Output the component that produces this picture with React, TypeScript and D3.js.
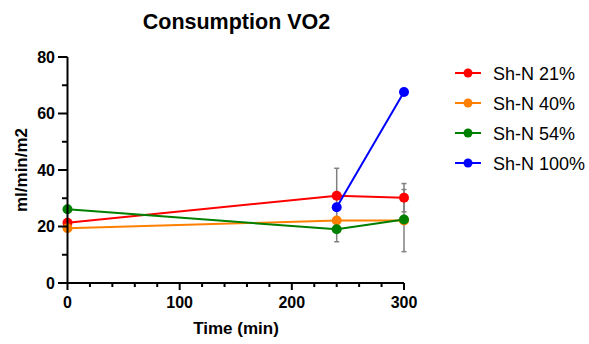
import React from "react";
import * as d3 from "d3";

const times = [0, 240, 300];
const seriesNames = ["Sh-N 21%", "Sh-N 40%", "Sh-N 54%", "Sh-N 100%"];
const seriesColors = ["#FF0000", "#FF8000", "#008000", "#0000FF"];
const red21 = [21.3, 30.9, 30.2];
const orange40 = [19.4, 22.1, 22.1];
const green54 = [26.1, 19.0, 22.5];
const blue100 = [null, 26.8, 67.6];
const red21Err = [0, 9.7, 5.0];
const orange40Err = [0, 0, 11.0];
const green54Err = [0, 4.4, 0];
const blue100Err = [0, 0, 0];
const xTicks = [0, 100, 200, 300];
const yTicks = [0, 20, 40, 60, 80];

const W = 589, H = 344;

export default function App() {
  const x = d3.scaleLinear().domain([0, 300]).range([67.5, 404]);
  const y = d3.scaleLinear().domain([0, 80]).range([283, 57]);
  const all = [red21, orange40, green54, blue100];
  const errs = [red21Err, orange40Err, green54Err, blue100Err];
  const font = "Arial, 'Liberation Sans', Helvetica, sans-serif";
  const line = d3
    .line<[number, number | null]>()
    .defined((d) => d[1] != null)
    .x((d) => x(d[0]))
    .y((d) => y(d[1] as number));
  const xMinor = d3.range(0, 301, 20);
  const yMinor = d3.range(0, 81, 10);

  return (
    <svg width={W} height={H} style={{ position: "absolute", left: 0, top: 0 }} fontFamily={font}>
      <rect width={W} height={H} fill="#fff" />
      <text x={236.5} y={29} textAnchor="middle" fontWeight="bold" fontSize={21.5}>
        Consumption VO2
      </text>
      {/* error bars */}
      {all.map((vals, si) =>
        vals.map((v, i) => {
          const e = errs[si][i];
          if (v == null || !e) return null;
          const cx = x(times[i]);
          return (
            <g key={`e${si}-${i}`} stroke="#808080" strokeWidth={1.5}>
              <line x1={cx} x2={cx} y1={y(v - e)} y2={y(v + e)} />
              <line x1={cx - 2.5} x2={cx + 2.5} y1={y(v - e)} y2={y(v - e)} />
              <line x1={cx - 2.5} x2={cx + 2.5} y1={y(v + e)} y2={y(v + e)} />
            </g>
          );
        })
      )}
      {/* lines and points */}
      {all.map((vals, si) => (
        <g key={`s${si}`}>
          <path
            d={line(times.map((t, i) => [t, vals[i]] as [number, number | null])) || ""}
            fill="none"
            stroke={seriesColors[si]}
            strokeWidth={2}
          />
          {vals.map((v, i) =>
            v == null ? null : (
              <circle key={i} cx={x(times[i])} cy={y(v)} r={5} fill={seriesColors[si]} />
            )
          )}
        </g>
      ))}
      {/* axes */}
      <g stroke="#000" strokeWidth={2}>
        <line x1={67.5} x2={67.5} y1={y(80)} y2={y(0)} />
        {yMinor.map((t) => (
          <line key={t} x1={t % 20 === 0 ? 58 : 62} x2={67.5} y1={y(t)} y2={y(t)} />
        ))}
        <line x1={67.5} x2={404} y1={283} y2={283} />
        {xMinor.map((t) => (
          <line key={t} x1={x(t)} x2={x(t)} y1={283} y2={t % 100 === 0 ? 290 : 287} />
        ))}
      </g>
      {yTicks.map((t) => (
        <text key={t} x={55} y={y(t) + 5.5} textAnchor="end" fontWeight="bold" fontSize={16}>
          {t}
        </text>
      ))}
      {xTicks.map((t) => (
        <text key={t} x={x(t)} y={308} textAnchor="middle" fontWeight="bold" fontSize={16}>
          {t}
        </text>
      ))}
      <text x={236} y={334} textAnchor="middle" fontWeight="bold" fontSize={17}>
        Time (min)
      </text>
      <text
        transform={`translate(27,170) rotate(-90)`}
        textAnchor="middle"
        fontWeight="bold"
        fontSize={17}
      >
        ml/min/m2
      </text>
      {/* legend */}
      {seriesNames.map((n, i) => (
        <g key={n} transform={`translate(0,${73 + i * 30})`}>
          <line x1={455} x2={481} y1={0} y2={0} stroke={seriesColors[i]} strokeWidth={2} />
          <circle cx={468} cy={0} r={4.5} fill={seriesColors[i]} />
          <text x={493} y={6.5} fontSize={18}>
            {n}
          </text>
        </g>
      ))}
    </svg>
  );
}
